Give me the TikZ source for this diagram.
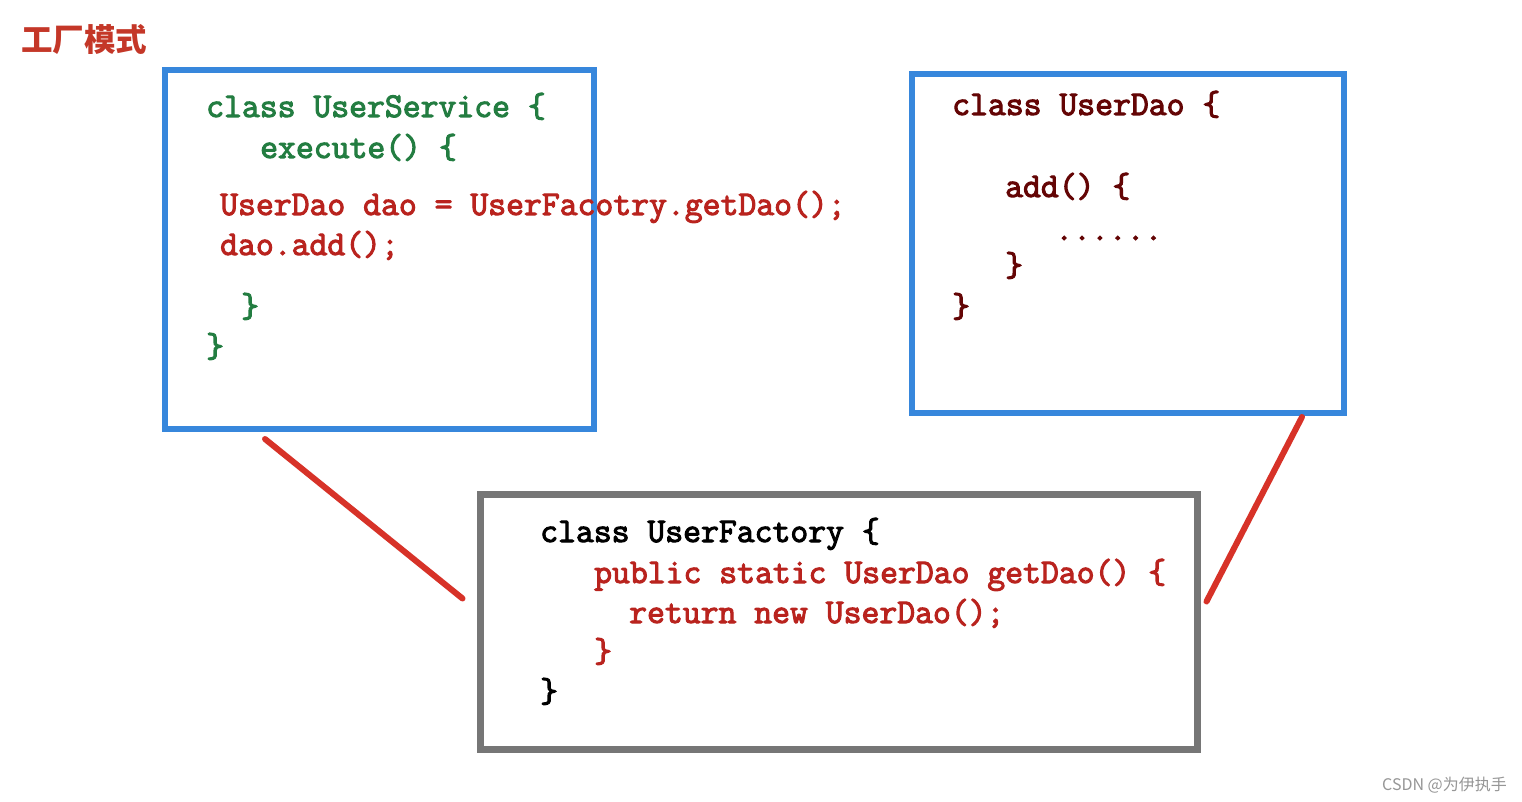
\documentclass[tikz,border=0pt]{standalone}
\usepackage{fontspec}
\usetikzlibrary{calc}
\newfontfamily\codefont[FakeBold=3]{Latin Modern Mono}
\newfontfamily\cjkfont{Noto Sans CJK SC}
\definecolor{codegreen}{RGB}{35,125,65}
\definecolor{codered}{RGB}{185,35,30}
\definecolor{codemaroon}{RGB}{100,5,5}
\definecolor{boxblue}{RGB}{55,135,220}
\definecolor{boxgray}{RGB}{118,118,118}
\definecolor{linkred}{RGB}{215,50,40}
\definecolor{titlered}{RGB}{196,55,40}
\definecolor{markgray}{RGB}{150,150,150}
\tikzset{
  bluebox/.style={draw=boxblue, line width=6pt, fill=white, inner sep=0pt},
  graybox/.style={draw=boxgray, line width=7pt, fill=white, inner sep=0pt},
  conn/.style={draw=linkred, line width=6pt, line cap=round},
  code/.style={anchor=base west, inner sep=0pt, font=\codefont\fontsize{34.7}{40}\selectfont},
}
\begin{document}
\begin{tikzpicture}[x=1pt,y=-1pt]
\path[use as bounding box, fill=white] (0,0) rectangle (1522,802);

% title
\node[anchor=base west, inner sep=0pt, text=titlered, font=\cjkfont\bfseries\fontsize{31.5}{36}\selectfont] (title) at (21,52) {工厂模式};

% boxes
\node[bluebox, minimum width=429pt, minimum height=359pt] (svc) at (379.5,249.5) {};
\node[bluebox, minimum width=432pt, minimum height=339pt] (dao) at (1128,243.5) {};
\node[graybox, minimum width=717pt, minimum height=255pt] (fac) at (838.5,621.5) {};

% connectors
\coordinate (c1a) at ($(svc.south west)+(103,7)$);
\coordinate (c1b) at ($(fac.west)+(-14,-23)$);
\coordinate (c2a) at ($(dao.south east)+(-45,1)$);
\coordinate (c2b) at ($(fac.east)+(6,-20)$);
\draw[conn] (c1a) -- (c1b);
\draw[conn] (c2a) -- (c2b);

% UserService
\node[code, text=codegreen] (s1) at (206,117) {class UserService \{};
\node[code, text=codegreen] (s2) at (260,158) {execute() \{};
\node[code, text=codered] (s3) at (220,215) {UserDao dao = UserFacotry.getDao();};
\node[code, text=codered] (s4) at (220,255) {dao.add();};
\node[code, text=codegreen] (s5) at (241,317) {\}};
\node[code, text=codegreen] (s6) at (206,357) {\}};

% UserDao
\node[code, text=codemaroon] (d1) at (952,115) {class UserDao \{};
\node[code, text=codemaroon] (d2) at (1005,197) {add() \{};
\node[code, text=codemaroon] (d3) at (1055,240) {......};
\node[code, text=codemaroon] (d4) at (1005,276) {\}};
\node[code, text=codemaroon] (d5) at (952,317) {\}};

% UserFactory
\node[code, text=black] (f1) at (540,542) {class UserFactory \{};
\node[code, text=codered] (f2) at (594,583) {public static UserDao getDao() \{};
\node[code, text=codered] (f3) at (629,623) {return new UserDao();};
\node[code, text=codered] (f4) at (594,662) {\}};
\node[code, text=black] (f5) at (540,702) {\}};

% watermark
\node[anchor=base east, inner sep=0pt, text=markgray, font=\cjkfont\fontsize{16}{18}\selectfont] (mark) at (1507,790) {CSDN @为伊执手};
\end{tikzpicture}
\end{document}
